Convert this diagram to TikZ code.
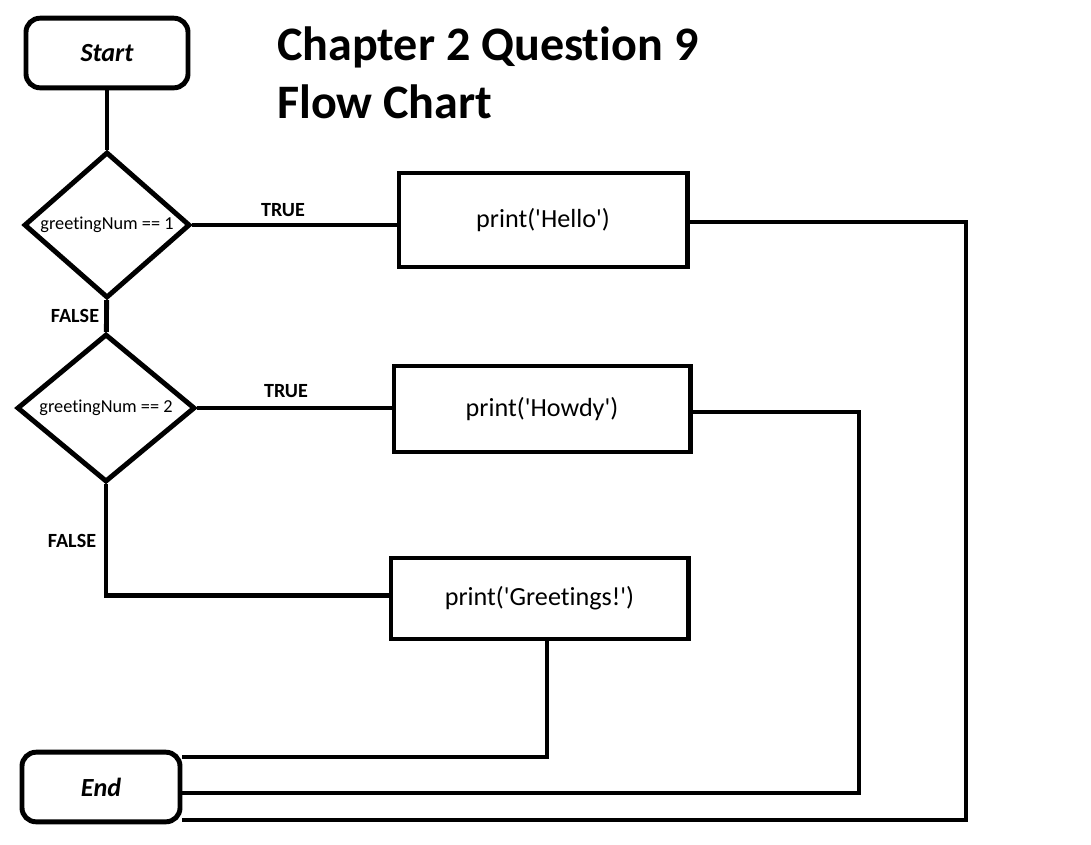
\documentclass[tikz,border=0pt]{standalone}
\usepackage{fontspec}
\setmainfont{Carlito}[Ligatures={NoCommon,NoContextual}, Contextuals={NoAlternate}, RawFeature={-liga;-clig;-calt}]
\usepackage{tikz}
\usetikzlibrary{calc, positioning, shapes.geometric}

\newcommand{\sq}{\textquotesingle}

\tikzset{
	terminal/.style={draw, rounded corners=10pt, minimum width=#1, minimum height=1.74cm, inner sep=0pt, font=\fontsize{18.6}{22}\selectfont\bfseries\itshape},
	decision/.style={draw, diamond, aspect=1.14, inner sep=0pt, font=\fontsize{13}{15}\selectfont},
	process/.style={draw, rectangle, inner sep=0pt, font=\fontsize{18.6}{22}\selectfont},
	lbl/.style={font=\fontsize{14.3}{17}\selectfont\bfseries}
}

\begin{document}
\begin{tikzpicture}[x=0.025cm, y=-0.025cm, line width=3.5pt]
	\useasboundingbox (0,0) rectangle (1091,844);
	\node[terminal=4.05cm] (start) at (107,53) {Start};
	\node[terminal=3.95cm] (end) at (101,787) {End};
	\node[decision, minimum width=4.15cm, minimum height=3.65cm] (dnum1) at (107,225) {greetingNum == 1};
	\node[decision, minimum width=4.45cm, minimum height=3.7cm] (dnum2) at (106,408) {greetingNum == 2};
	\node[process, minimum width=7.2cm, minimum height=2.35cm] (hello) at (543,220) {print(\sq Hello\sq)};
	\node[process, minimum width=7.4cm, minimum height=2.15cm] (howdy) at (542,409) {print(\sq Howdy\sq)};
	\node[process, minimum width=7.425cm, minimum height=2.025cm] (greet) at (539.5,598.5) {print(\sq Greetings!\sq)};
	\node[anchor=north west, align=left, font=\fontsize{34.2}{41.2}\selectfont\bfseries] (title) at (270,20) {Chapter 2 Question 9\\Flow Chart};
	
	\coordinate (hcorner) at (966,820);
	\coordinate (wcorner) at (859,793);
	\coordinate (gcorner) at (547,757);
	
	\draw (start) -- (dnum1);
	\draw (dnum1) -- (dnum2);
	\draw (dnum1.east) -- (dnum1.east -| hello.west);
	\draw (dnum2.east) -- (dnum2.east -| howdy.west);
	\draw (dnum2.south) |- ($(greet.west)+(0,-3)$);
	\draw ($(hello.east)+(0,2)$) -| (hcorner) -- (hcorner -| end.east);
	\draw ($(howdy.east)+(0,3)$) -| (wcorner) -- (wcorner -| end.east);
	\draw (greet.south -| gcorner) -- (gcorner) -- (gcorner -| end.east);
	
	\node[lbl] (true1) at (283,210) {TRUE};
	\node[lbl] (true2) at (286,391) {TRUE};
	\node[lbl] (false1) at (75,316) {FALSE};
	\node[lbl] (false2) at (72,541) {FALSE};
\end{tikzpicture}
\end{document}
